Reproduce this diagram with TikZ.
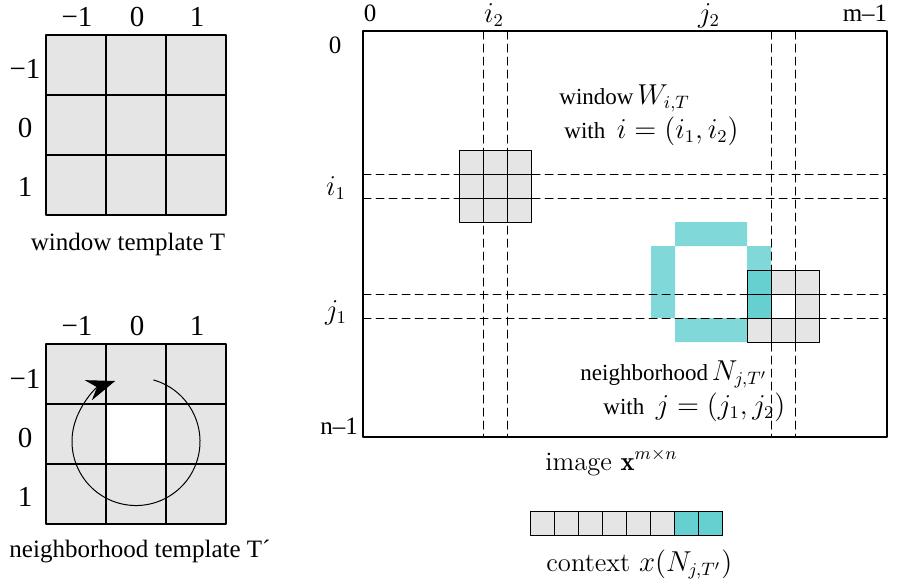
\documentclass[tikz,border=0pt]{standalone}
\usepackage{fontspec}
\usetikzlibrary{arrows.meta}
\newfontfamily\tms{Liberation Serif}
\definecolor{cellgray}{gray}{0.9}
\definecolor{ringcyan}{RGB}{128,216,216}
\definecolor{ctxcyan}{RGB}{102,207,207}
\tikzset{
  cell/.style={draw, fill=cellgray, line width=.6pt},
  smallcell/.style={draw, fill=cellgray, line width=.5pt},
  tmplbl/.style={font=\tms\fontsize{12.5}{14}\selectfont, anchor=base},
  numlbl/.style={font=\tms\fontsize{14.5}{16}\selectfont, anchor=base},
  imglbl/.style={font=\tms\fontsize{11.5}{13}\selectfont, anchor=base},
  axlbl/.style={font=\tms\fontsize{12.5}{14}\selectfont, anchor=base, inner sep=0pt},
  cmlbl/.style={font=\fontsize{13.3}{15}\selectfont, anchor=base, inner sep=0pt},
  dashln/.style={line width=.5pt, dash pattern=on 4pt off 2.5pt},
}
\begin{document}
\begin{tikzpicture}[x=.5pt, y=-.5pt, >={Stealth[scale=2.7]}, line join=round, line cap=round]
	\useasboundingbox (0,0) rectangle (900,586);
	% window template T
	\foreach \c in {0,1,2}
		\foreach \r in {0,1,2}
			\draw[cell] (46+60*\c,35+60*\r) rectangle +(60,60);
	\foreach \v [count=\k from 0] in {−1,0,1} {
		\node[numlbl] (wtop\k) at (77+60*\k,26) {\v};
		\node[numlbl] (wleft\k) at (25,78+59*\k) {\v};
	}
	\node[tmplbl] (wname) at (128,250) {window template T};
	% neighborhood template T'
	\foreach \c in {0,1,2}
		\foreach \r in {0,1,2}
			\draw[cell] (46+60*\c,344+60*\r) rectangle +(60,60);
	\draw[cell, fill=white] (106,404) rectangle +(60,60);
	\foreach \v [count=\k from 0] in {−1,0,1} {
		\node[numlbl] (ntop\k) at (77+60*\k,335) {\v};
		\node[numlbl] (nleft\k) at (25,388+59*\k) {\v};
	}
	\coordinate (loopc) at (136,441.5);
	\draw[->, line width=.5pt] (loopc) ++(-74:64) arc[start angle=-74, end angle=251, radius=64];
	\node[tmplbl] (nname) at (140,557) {neighborhood template T´};
	% image x
	\fill[ringcyan] (675,222) rectangle (747,246)
		(651,246) rectangle (675,318)
		(747,246) rectangle (771,270)
		(675,318) rectangle (747,342);
	\draw[line width=.6pt] (363,31) rectangle (887,437);
	\foreach \x in {483,507,771,795}
		\draw[dashln] (\x,31) -- (\x,437);
	\foreach \y in {174,198,294,318}
		\draw[dashln] (363,\y) -- (887,\y);
	% window W and neighborhood N
	\foreach \c in {0,1,2}
		\foreach \r in {0,1,2} {
			\draw[smallcell] (459+24*\c,150+24*\r) rectangle +(24,24);
			\draw[smallcell] (747+24*\c,270+24*\r) rectangle +(24,24);
		}
	\draw[smallcell, fill=white] (771,294) rectangle +(24,24);
	\draw[smallcell, fill=ctxcyan] (747,270) rectangle +(24,24);
	\draw[smallcell, fill=ctxcyan] (747,294) rectangle +(24,24);
	% axis labels
	\node[axlbl] (x0) at (370,21) {0};
	\node[axlbl] (xm) at (865,21) {m–1};
	\node[cmlbl] (xi) at (494,22) {$i_2$};
	\node[cmlbl] (xj) at (709,22) {$j_2$};
	\node[axlbl] (y0) at (335,53) {0};
	\node[cmlbl] (yi) at (336,195) {$i_1$};
	\node[cmlbl] (yj) at (336,319) {$j_1$};
	\node[axlbl] (yn) at (339,434) {n–1};
	% texts
	\node[imglbl, anchor=base west, inner sep=0pt] (wlbl) at (559,104) {window\,{\fontsize{13.3}{15}\selectfont$W_{i,T}$}};
	\node[imglbl, anchor=base west, inner sep=0pt] (wwith) at (564,138) {with\ \ {\fontsize{13.3}{15}\selectfont$i=(i_1,i_2)$}};
	\node[imglbl, anchor=base west, inner sep=0pt] (nlbl) at (580,380) {neighborhood\,{\fontsize{13.3}{15}\selectfont$N_{j,T'}$}};
	\node[imglbl, anchor=base west, inner sep=0pt] (nwith) at (603,414) {with\ \ {\fontsize{13.3}{15}\selectfont$j=(j_1,j_2)$}};
	\node[cmlbl, anchor=base west] (ilbl) at (545,470) {image $\mathbf{x}^{m\times n}$};
	% context
	\foreach \c in {0,...,7}
		\draw[smallcell] (530+24*\c,511) rectangle +(24,24);
	\draw[smallcell, fill=ctxcyan] (674,511) rectangle +(24,24);
	\draw[smallcell, fill=ctxcyan] (698,511) rectangle +(24,24);
	\node[cmlbl, anchor=base west] (clbl) at (546,571) {context $x(N_{j,T'})$};
\end{tikzpicture}
\end{document}
